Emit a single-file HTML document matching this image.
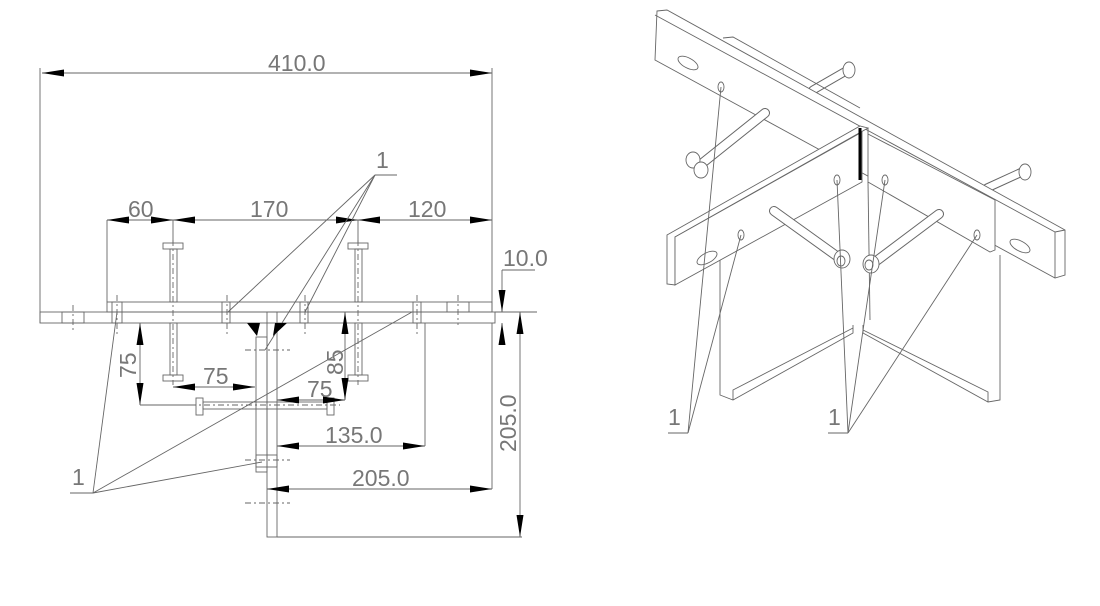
<!DOCTYPE html>
<html><head><style>
html,body{margin:0;padding:0;background:#fff;}
svg{display:block;}
text{font-family:"Liberation Sans Narrow","Liberation Sans",sans-serif;fill:#777;font-size:23px;}
</style></head><body>
<svg width="1100" height="606" viewBox="0 0 1100 606" xmlns="http://www.w3.org/2000/svg">
<defs>
<marker id="a" viewBox="0 0 22 7" refX="22" refY="3.5" markerWidth="22" markerHeight="7" markerUnits="userSpaceOnUse" orient="auto-start-reverse" preserveAspectRatio="none"><path d="M0,0L22,3.5L0,7z" fill="#000"/></marker>
</defs>
<g stroke="#666" stroke-width="0.9" fill="none">
<line x1="42" y1="73" x2="492" y2="73" marker-start="url(#a)" marker-end="url(#a)"/>
<line x1="40" y1="68" x2="40" y2="323"/>
<line x1="492" y1="68" x2="492" y2="312"/>
<rect x="107" y="302" width="385" height="10"/>
<rect x="40" y="312" width="455" height="11"/>
<line x1="495" y1="312" x2="537" y2="312"/>
<line x1="425" y1="323" x2="425" y2="446"/>
<rect x="112" y="302" width="10" height="21"/>
<rect x="222" y="302" width="8" height="21"/>
<rect x="300" y="302" width="8" height="21"/>
<rect x="413" y="302" width="8" height="21"/>
<rect x="447" y="302" width="22" height="10"/>
<rect x="62" y="312" width="22" height="11"/>
<g stroke-dasharray="6,3,2,3">
<line x1="73" y1="305" x2="73" y2="332"/><line x1="117" y1="295" x2="117" y2="335"/>
<line x1="227" y1="295" x2="227" y2="335"/><line x1="305" y1="295" x2="305" y2="335"/>
<line x1="417" y1="295" x2="417" y2="335"/><line x1="458" y1="295" x2="458" y2="325"/>
<line x1="173" y1="240" x2="173" y2="385"/><line x1="358" y1="240" x2="358" y2="385"/>
<line x1="190" y1="405" x2="340" y2="405"/>
<line x1="245" y1="350" x2="290" y2="350"/><line x1="245" y1="460" x2="290" y2="460"/><line x1="245" y1="503" x2="290" y2="503"/>
</g>
<rect x="267" y="312" width="10" height="225"/>
<rect x="256" y="337" width="11" height="135"/>
<rect x="256" y="455" width="21" height="12"/>
<rect x="163" y="243" width="20" height="6"/><rect x="170" y="249" width="7" height="53"/>
<rect x="170" y="323" width="7" height="52"/><rect x="163" y="375" width="20" height="6"/>
<rect x="348" y="243" width="20" height="6"/><rect x="355" y="249" width="7" height="53"/>
<rect x="355" y="323" width="7" height="52"/><rect x="348" y="375" width="20" height="6"/>
<rect x="196" y="398" width="7" height="17"/><rect x="203" y="402" width="124" height="7"/><rect x="327" y="398" width="7" height="17"/>
<line x1="107" y1="220" x2="492" y2="220"/>
<line x1="107" y1="220" x2="107" y2="302"/>
<line x1="173" y1="220" x2="173" y2="243"/><line x1="358" y1="220" x2="358" y2="243"/>
<line x1="107" y1="220" x2="130" y2="220" marker-start="url(#a)"/>
<line x1="150" y1="220" x2="173" y2="220" marker-end="url(#a)"/>
<line x1="173" y1="220" x2="358" y2="220" marker-start="url(#a)" marker-end="url(#a)"/>
<line x1="358" y1="220" x2="492" y2="220" marker-start="url(#a)" marker-end="url(#a)"/>
<line x1="140" y1="323" x2="140" y2="405" marker-start="url(#a)" marker-end="url(#a)"/>
<line x1="140" y1="405" x2="196" y2="405"/>
<line x1="173" y1="387" x2="255" y2="387" marker-start="url(#a)" marker-end="url(#a)"/>
<line x1="277" y1="400" x2="345" y2="400" marker-start="url(#a)" marker-end="url(#a)"/>
<line x1="345" y1="312" x2="345" y2="400" marker-start="url(#a)" marker-end="url(#a)"/>
<line x1="277" y1="446" x2="425" y2="446" marker-start="url(#a)" marker-end="url(#a)"/>
<line x1="267" y1="489" x2="492" y2="489" marker-start="url(#a)" marker-end="url(#a)"/>
<line x1="492" y1="323" x2="492" y2="489"/>
<line x1="520" y1="312" x2="520" y2="537" marker-start="url(#a)" marker-end="url(#a)"/>
<line x1="277" y1="537" x2="522" y2="537"/>
<line x1="502" y1="270" x2="535" y2="270"/>
<line x1="502" y1="270" x2="502" y2="312" marker-end="url(#a)"/>
<line x1="502" y1="345" x2="502" y2="323" marker-end="url(#a)"/>
<line x1="70" y1="493" x2="93" y2="493"/>
<line x1="93" y1="493" x2="117" y2="312"/><line x1="93" y1="493" x2="412" y2="312"/><line x1="93" y1="493" x2="262" y2="462"/>
<line x1="375" y1="175" x2="397" y2="175"/>
<line x1="375" y1="175" x2="228" y2="312"/><line x1="375" y1="175" x2="305" y2="312"/><line x1="375" y1="175" x2="265" y2="350"/>
</g>
<path d="M247,323L260,323L257,336ZM275,323L287,323L273,336Z" fill="#000"/>
<text x="268" y="71">410.0</text>
<text x="128" y="217">60</text><text x="250" y="217">170</text><text x="408" y="217">120</text>
<text x="503" y="266">10.0</text>
<text x="203" y="384">75</text>
<text x="307" y="397">75</text>
<text x="325" y="443">135.0</text>
<text x="352" y="486">205.0</text>
<text x="0" y="0" transform="translate(136,378) rotate(-90)">75</text>
<text x="0" y="0" transform="translate(343,375) rotate(-90)">85</text>
<text x="0" y="0" transform="translate(516,452) rotate(-90)">205.0</text>
<text x="72" y="485" font-size="28">1</text><text x="376" y="168" font-size="28">1</text>

<!-- right iso -->
<g stroke="#666" stroke-width="0.9" fill="#fff">
<!-- back bolts (drawn first) -->
<g stroke-linecap="round">
<line x1="813" y1="90" x2="846" y2="71" stroke="#666" stroke-width="9"/>
<line x1="813" y1="90" x2="846" y2="71" stroke="#fff" stroke-width="7"/>
<line x1="987" y1="188" x2="1022" y2="172" stroke="#666" stroke-width="9"/>
<line x1="987" y1="188" x2="1022" y2="172" stroke="#fff" stroke-width="7"/>
</g>
<ellipse cx="849" cy="70" rx="6" ry="8"/>
<ellipse cx="1025" cy="172" rx="6" ry="8"/>
<!-- long plate -->
<path d="M657,11L667,10L1065,230L1065,275L1055,278L655,60Z"/>
<path d="M655,15L1055,232L1055,278M1055,232L1065,230" fill="none"/>
<ellipse cx="688" cy="63" rx="11" ry="5" transform="rotate(28 688 63)"/>
<ellipse cx="1020" cy="246" rx="11" ry="5" transform="rotate(28 1020 246)"/>
<ellipse cx="721" cy="87" rx="3" ry="5"/>
<path d="M723,38L733,37L860,108" fill="none"/>
<!-- channel -->
<path d="M720,250L720,395L733,400L853,333L853,325M733,400L733,390L853,328" fill="none"/>
<path d="M1000,255L1000,400L988,402L863,333L863,325M988,402L988,392L863,330" fill="none"/>
<path d="M722,250L860,180" fill="none"/>
<path d="M868,182L870,320" fill="none"/>
<!-- left upper bolt -->
<g stroke-linecap="round">
<line x1="765" y1="113" x2="700" y2="165" stroke="#666" stroke-width="10"/>
<line x1="765" y1="113" x2="700" y2="165" stroke="#fff" stroke-width="8"/>
</g>
<ellipse cx="693" cy="160" rx="7" ry="8"/><ellipse cx="701" cy="170" rx="7" ry="8"/>
<!-- short plate -->
<path d="M667,235L860,126L868,128L675,237L675,285L667,284Z"/>
<path d="M675,237L862,132L862,182L675,285Z"/>
<path d="M868,128L868,134L995,200L995,250L990,252L868,182Z"/>
<path d="M860,128L860,180" stroke="#000" stroke-width="3"/>
<ellipse cx="707" cy="258" rx="11" ry="5" transform="rotate(-28 707 258)"/>
<ellipse cx="741" cy="235" rx="3" ry="5"/>
<ellipse cx="977" cy="235" rx="3" ry="5"/>
<ellipse cx="837" cy="180" rx="3" ry="5"/><ellipse cx="885" cy="180" rx="3" ry="5"/>
<!-- front bolts -->
<g stroke-linecap="round">
<line x1="774" y1="211" x2="838" y2="257" stroke="#666" stroke-width="10"/>
<line x1="774" y1="211" x2="838" y2="257" stroke="#fff" stroke-width="8"/>
<line x1="939" y1="214" x2="875" y2="262" stroke="#666" stroke-width="10"/>
<line x1="939" y1="214" x2="875" y2="262" stroke="#fff" stroke-width="8"/>
</g>
<ellipse cx="842" cy="259" rx="8" ry="9"/><ellipse cx="841" cy="261" rx="4" ry="5" fill="none"/>
<ellipse cx="871" cy="264" rx="8" ry="9"/><ellipse cx="869" cy="265" rx="4" ry="5" fill="none"/>
<g fill="none">
<line x1="668" y1="433" x2="688" y2="433"/>
<line x1="688" y1="433" x2="721" y2="87"/><line x1="688" y1="433" x2="741" y2="235"/>
<line x1="828" y1="433" x2="848" y2="433"/>
<line x1="848" y1="433" x2="837" y2="180"/><line x1="848" y1="433" x2="885" y2="180"/><line x1="848" y1="433" x2="977" y2="235"/>
</g>
</g>
<text x="668" y="425" font-size="28">1</text><text x="828" y="425" font-size="28">1</text>
</svg>
</body></html>
